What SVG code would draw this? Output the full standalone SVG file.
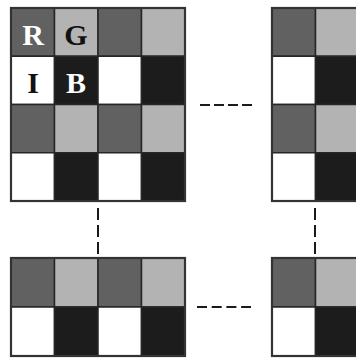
<svg xmlns="http://www.w3.org/2000/svg" width="356" height="358" viewBox="0 0 356 358">
<style>
.d{fill:#616161}.l{fill:#b3b3b3}.k{fill:#1c1c1c}.w{fill:#ffffff}
g rect{stroke:#262626;stroke-width:1.5}
g rect.o{fill:none;stroke:#333;stroke-width:2.2}
.t{font-family:"Liberation Serif",serif;font-weight:bold;font-size:30px;text-anchor:middle}
.c{stroke:#1a1a1a;stroke-width:2;fill:none}
</style>
<rect width="356" height="358" style="fill:#fff;stroke:none"/>
<g id="grid-top-left">
<rect class="d" x="11" y="8" width="43.5" height="48.25"/>
<rect class="l" x="54.5" y="8" width="43.5" height="48.25"/>
<rect class="d" x="98" y="8" width="43.5" height="48.25"/>
<rect class="l" x="141.5" y="8" width="43.5" height="48.25"/>
<rect class="w" x="11" y="56.25" width="43.5" height="48.25"/>
<rect class="k" x="54.5" y="56.25" width="43.5" height="48.25"/>
<rect class="w" x="98" y="56.25" width="43.5" height="48.25"/>
<rect class="k" x="141.5" y="56.25" width="43.5" height="48.25"/>
<rect class="d" x="11" y="104.5" width="43.5" height="48.25"/>
<rect class="l" x="54.5" y="104.5" width="43.5" height="48.25"/>
<rect class="d" x="98" y="104.5" width="43.5" height="48.25"/>
<rect class="l" x="141.5" y="104.5" width="43.5" height="48.25"/>
<rect class="w" x="11" y="152.75" width="43.5" height="48.25"/>
<rect class="k" x="54.5" y="152.75" width="43.5" height="48.25"/>
<rect class="w" x="98" y="152.75" width="43.5" height="48.25"/>
<rect class="k" x="141.5" y="152.75" width="43.5" height="48.25"/>
<rect class="o" x="11" y="8" width="174" height="193"/>
<text class="t" x="33" y="45" fill="#fff">R</text>
<text class="t" x="76" y="45" fill="#111">G</text>
<text class="t" x="33" y="93" fill="#111">I</text>
<text class="t" x="76" y="93" fill="#fff">B</text>
</g>
<g id="grid-top-right">
<rect class="d" x="272" y="8" width="43.5" height="48.25"/>
<rect class="l" x="315.5" y="8" width="43.5" height="48.25"/>
<rect class="w" x="272" y="56.25" width="43.5" height="48.25"/>
<rect class="k" x="315.5" y="56.25" width="43.5" height="48.25"/>
<rect class="d" x="272" y="104.5" width="43.5" height="48.25"/>
<rect class="l" x="315.5" y="104.5" width="43.5" height="48.25"/>
<rect class="w" x="272" y="152.75" width="43.5" height="48.25"/>
<rect class="k" x="315.5" y="152.75" width="43.5" height="48.25"/>
<rect class="o" x="272" y="8" width="90" height="193"/>
</g>
<g id="grid-bottom-left">
<rect class="d" x="11" y="258" width="43.5" height="49"/>
<rect class="l" x="54.5" y="258" width="43.5" height="49"/>
<rect class="d" x="98" y="258" width="43.5" height="49"/>
<rect class="l" x="141.5" y="258" width="43.5" height="49"/>
<rect class="w" x="11" y="307" width="43.5" height="49"/>
<rect class="k" x="54.5" y="307" width="43.5" height="49"/>
<rect class="w" x="98" y="307" width="43.5" height="49"/>
<rect class="k" x="141.5" y="307" width="43.5" height="49"/>
<rect class="o" x="11" y="258" width="174" height="98"/>
</g>
<g id="grid-bottom-right">
<rect class="d" x="272" y="258" width="43.5" height="49"/>
<rect class="l" x="315.5" y="258" width="43.5" height="49"/>
<rect class="w" x="272" y="307" width="43.5" height="49"/>
<rect class="k" x="315.5" y="307" width="43.5" height="49"/>
<rect class="o" x="272" y="258" width="90" height="98"/>
</g>
<g id="connectors">
<line class="c" x1="200" y1="105" x2="252" y2="105" stroke-dasharray="10 4"/>
<line class="c" x1="197" y1="307" x2="251" y2="307" stroke-dasharray="10 4.7"/>
<line class="c" x1="98" y1="208" x2="98" y2="254" stroke-dasharray="12 5"/>
<line class="c" x1="315" y1="208" x2="315" y2="254" stroke-dasharray="12 5"/>
</g>
</svg>
